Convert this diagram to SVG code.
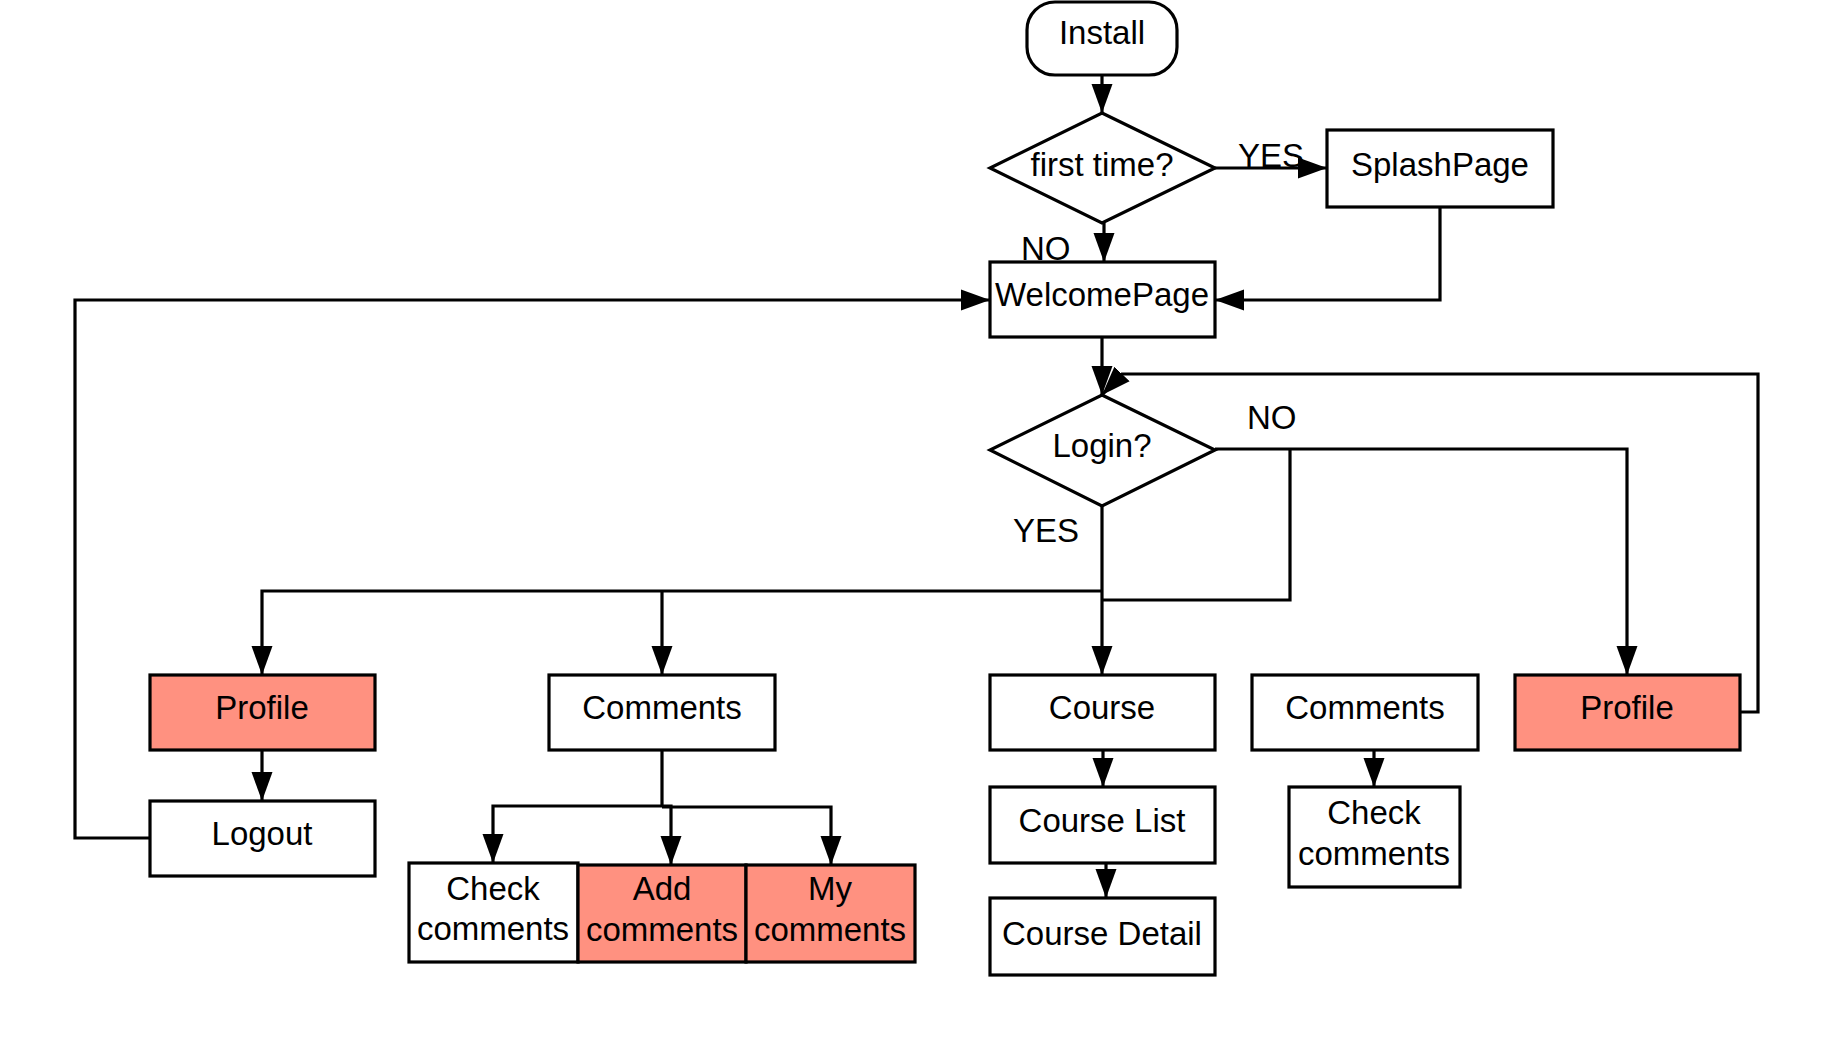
<svg xmlns="http://www.w3.org/2000/svg" width="1834" height="1050" viewBox="0 0 1834 1050">
<style>
  .box{fill:#ffffff;stroke:#000;stroke-width:3.2}
  .red{fill:#FF9180;stroke:#000;stroke-width:3.2}
  .t{font-family:"Liberation Sans",Arial,sans-serif;font-size:33px;fill:#000;text-anchor:middle}
  .lbl{font-family:"Liberation Sans",Arial,sans-serif;font-size:33px;fill:#000}
  .c{fill:none;stroke:#000;stroke-width:3.2}
</style>
<defs>
  <marker id="arr" markerUnits="userSpaceOnUse" markerWidth="30" markerHeight="22" refX="29" refY="11" orient="auto">
    <path d="M0,0.5 L29,11 L0,21.5 z" fill="#000"/>
  </marker>
</defs>
<rect width="1834" height="1050" fill="#ffffff"/>

<g id="connectors">
  <path class="c" d="M1102,75 V113" marker-end="url(#arr)"/>
  <path class="c" d="M1215,168 H1327" marker-end="url(#arr)"/>
  <path class="c" d="M1104,223 V262" marker-end="url(#arr)"/>
  <path class="c" d="M1440,207 V300 H1215" marker-end="url(#arr)"/>
  <path class="c" d="M150,838 H75 V300 H990" marker-end="url(#arr)"/>
  <path class="c" d="M1102,337 V395" marker-end="url(#arr)"/>
  <path class="c" d="M1740,712 H1758 V374 H1122 L1102,395" marker-end="url(#arr)"/>
  <path class="c" d="M1102,506 V675" marker-end="url(#arr)"/>
  <path class="c" d="M1102,591 H262 V675" marker-end="url(#arr)"/>
  <path class="c" d="M662,591 V675" marker-end="url(#arr)"/>
  <path class="c" d="M1215,449 H1627 V675" marker-end="url(#arr)"/>
  <path class="c" d="M1290,449 V600 H1102"/>
  <path class="c" d="M262,750 V801" marker-end="url(#arr)"/>
  <path class="c" d="M662,750 V806 H493 V863" marker-end="url(#arr)"/>
  <path class="c" d="M662,806 H671 V865" marker-end="url(#arr)"/>
  <path class="c" d="M662,807 H831 V865" marker-end="url(#arr)"/>
  <path class="c" d="M1103,750 V787" marker-end="url(#arr)"/>
  <path class="c" d="M1106,863 V898" marker-end="url(#arr)"/>
  <path class="c" d="M1374,750 V787" marker-end="url(#arr)"/>
  <text class="lbl" x="1238" y="167">YES</text>
  <text class="lbl" x="1021" y="260">NO</text>
  <text class="lbl" x="1247" y="429">NO</text>
  <text class="lbl" x="1013" y="542">YES</text>
</g>

<g id="install"><rect class="box" x="1027" y="2" width="150" height="73" rx="28"/><text class="t" x="1102" y="44">Install</text></g>
<g id="first-time"><polygon class="box" points="1102,113 1215,168 1102,223 990,168"/><text class="t" x="1102" y="176">first time?</text></g>
<g id="splash"><rect class="box" x="1327" y="130" width="226" height="77"/><text class="t" x="1440" y="176">SplashPage</text></g>
<g id="welcome"><rect class="box" x="990" y="262" width="225" height="75"/><text class="t" x="1102" y="306">WelcomePage</text></g>
<g id="login"><polygon class="box" points="1102,395 1215,450 1102,506 990,450"/><text class="t" x="1102" y="457">Login?</text></g>
<g id="profile-left"><rect class="red" x="150" y="675" width="225" height="75"/><text class="t" x="262" y="719">Profile</text></g>
<g id="comments-left"><rect class="box" x="549" y="675" width="226" height="75"/><text class="t" x="662" y="719">Comments</text></g>
<g id="course"><rect class="box" x="990" y="675" width="225" height="75"/><text class="t" x="1102" y="719">Course</text></g>
<g id="comments-right"><rect class="box" x="1252" y="675" width="226" height="75"/><text class="t" x="1365" y="719">Comments</text></g>
<g id="profile-right"><rect class="red" x="1515" y="675" width="225" height="75"/><text class="t" x="1627" y="719">Profile</text></g>
<g id="logout"><rect class="box" x="150" y="801" width="225" height="75"/><text class="t" x="262" y="845">Logout</text></g>
<g id="check-comments-left"><rect class="box" x="409" y="863" width="169" height="99"/><text class="t" x="493" y="900">Check</text><text class="t" x="493" y="940">comments</text></g>
<g id="add-comments"><rect class="red" x="578" y="865" width="168" height="97"/><text class="t" x="662" y="900">Add</text><text class="t" x="662" y="941">comments</text></g>
<g id="my-comments"><rect class="red" x="746" y="865" width="169" height="97"/><text class="t" x="830" y="900">My</text><text class="t" x="830" y="941">comments</text></g>
<g id="course-list"><rect class="box" x="990" y="787" width="225" height="76"/><text class="t" x="1102" y="832">Course List</text></g>
<g id="course-detail"><rect class="box" x="990" y="898" width="225" height="77"/><text class="t" x="1102" y="945">Course Detail</text></g>
<g id="check-comments-right"><rect class="box" x="1289" y="787" width="171" height="100"/><text class="t" x="1374" y="824">Check</text><text class="t" x="1374" y="865">comments</text></g>
</svg>
